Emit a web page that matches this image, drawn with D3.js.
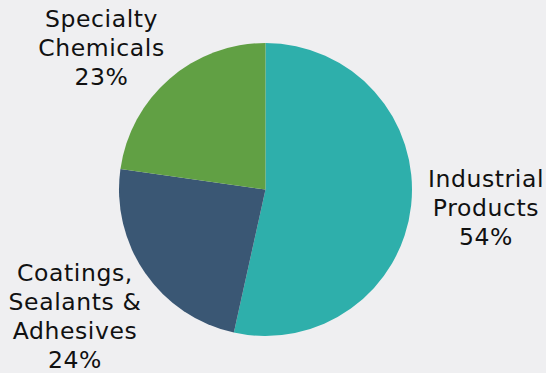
<!DOCTYPE html>
<html>
<head>
<meta charset="utf-8">
<script src="https://cdn.jsdelivr.net/npm/d3@7"></script>
<style>
  html, body { margin: 0; padding: 0; background: #efeff1; }
  #chart { width: 546px; height: 373px; }
</style>
</head>
<body>
<div id="chart"></div>
<script>
// Dữ liệu
const categories = ["Industrial Products", "Coatings, Sealants & Adhesives", "Specialty Chemicals"];
const shares = [54, 24, 23];
const labelLines = [
  ["Industrial", "Products", "54%"],
  ["Coatings,", "Sealants &", "Adhesives", "24%"],
  ["Specialty", "Chemicals", "23%"]
];
const colors = ["#2eafab", "#3a5774", "#61a044"];

// Vị trí nhãn (bố cục)
const labelAnchor = [
  { x: 486, y: 187 },
  { x: 75, y: 280.5 },
  { x: 101.5, y: 27 }
];

const width = 546, height = 373;
const cx = 265.5, cy = 189.5, radius = 146.5;
const lineH = 29.1;

const svg = d3.select("#chart")
  .append("svg")
  .attr("width", width)
  .attr("height", height);

// nền hơi xám
svg.append("rect")
  .attr("width", width)
  .attr("height", height)
  .attr("fill", "#efeff1");

const data = categories.map((c, i) => ({ name: c, value: shares[i], i }));

const pie = d3.pie()
  .sort(null)
  .value(d => d.value);

const arc = d3.arc()
  .innerRadius(0)
  .outerRadius(radius);

const g = svg.append("g")
  .attr("transform", `translate(${cx}, ${cy})`);

g.selectAll("path")
  .data(pie(data))
  .enter()
  .append("path")
  .attr("d", arc)
  .attr("fill", d => colors[d.data.i]);

// Nhãn
labelLines.forEach((lines, i) => {
  const t = svg.append("text")
    .attr("text-anchor", "middle")
    .style("font-family", "'DejaVu Sans', Verdana, sans-serif")
    .style("font-size", "23.5px")
    .style("letter-spacing", "0.6px")
    .style("fill", "#111");
  lines.forEach((ln, j) => {
    t.append("tspan")
      .attr("x", labelAnchor[i].x)
      .attr("y", labelAnchor[i].y + j * lineH)
      .text(ln);
  });
});
</script>
</body>
</html>
